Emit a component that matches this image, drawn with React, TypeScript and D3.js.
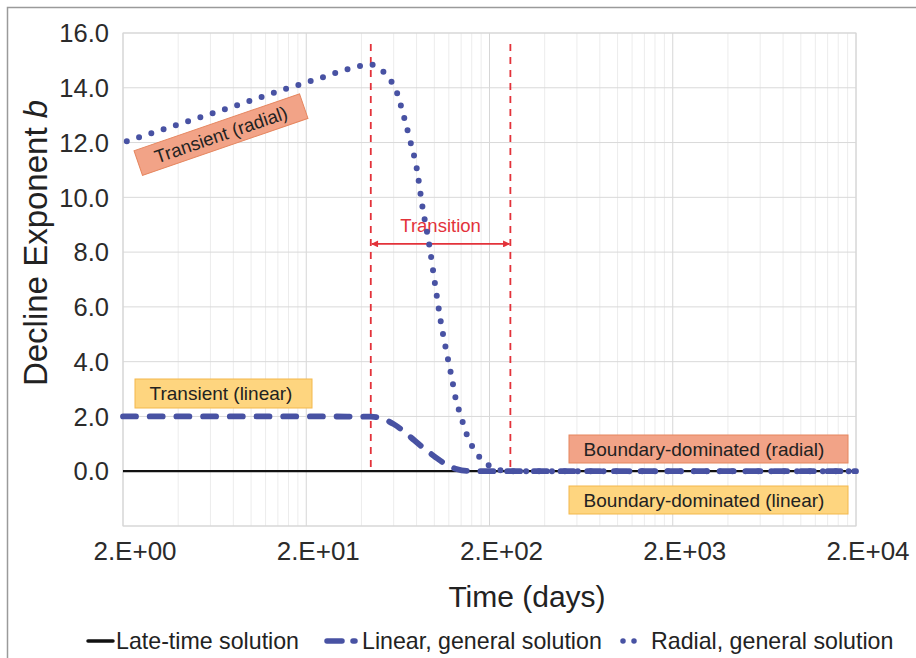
import React from "react";
import * as d3 from "d3";

// Time axis (days) and decline exponent b for each solution
const lateTimeT = [2, 20000];
const lateTimeB = [0, 0];

const linearT = [2, 20, 45, 52, 60, 68, 78, 90, 102, 116, 132, 150, 175, 20000];
const linearB = [2.0, 2.0, 1.99, 1.92, 1.72, 1.46, 1.12, 0.78, 0.5, 0.25, 0.08, 0.01, 0, 0];

const radialT = [2, 4, 8, 15, 25, 32, 38, 44, 51, 57, 62, 65, 68, 74, 80, 86, 94, 101, 109, 116, 124, 132, 139, 146, 155, 168, 187, 214, 250, 20000];
const radialB = [12.0, 12.66, 13.32, 13.93, 14.4, 14.64, 14.77, 14.86, 14.67, 14.32, 13.89, 13.45, 12.98, 12.04, 11.09, 9.68, 8.23, 6.81, 5.37, 4.42, 3.47, 2.53, 2.06, 1.58, 1.13, 0.71, 0.34, 0.1, 0, 0];

// Flow regime boundaries (days)
const transitionStart = 45;
const transitionEnd = 260;

const xTicks = [2, 20, 200, 2000, 20000];
const xTickLabels = ["2.E+00", "2.E+01", "2.E+02", "2.E+03", "2.E+04"];
const yTicks = [0, 2, 4, 6, 8, 10, 12, 14, 16];
const yGrid = [-2, 0, 2, 4, 6, 8, 10, 12, 14, 16];

const FONT = "'Liberation Sans', Arial, Helvetica, sans-serif";
const BLUE = "#4852A3";
const RED = "#E3323A";

export default function App() {
  const W = 916;
  const H = 658;
  const x = d3.scaleLog().domain([2, 20000]).range([123, 856]);
  const y = d3.scaleLinear().domain([-2, 16]).range([526, 33]);

  const line = d3
    .line<[number, number]>()
    .x((d) => x(d[0]))
    .y((d) => y(d[1]))
    .curve(d3.curveMonotoneX);

  const zip = (t: number[], b: number[]) => t.map((v, i) => [v, b[i]] as [number, number]);

  const minorX: number[] = [];
  for (let n = 0; n < 4; n++) {
    for (let k = 2; k <= 9; k++) minorX.push(2 * Math.pow(10, n) * k);
  }

  const [x0, x1] = x.range();
  const [yb, yt] = y.range();

  const arrowY = y(8.3);
  const xs = x(transitionStart);
  const xe = x(transitionEnd);

  const radialBoxCx = 221;
  const radialBoxCy = 134.6;

  return (
    <svg
      width={W}
      height={H}
      style={{ position: "absolute", left: 0, top: 0, background: "#fff" }}
      fontFamily={FONT}
    >
      <defs>
        <marker id="arr" viewBox="0 0 10 10" refX="9" refY="5" markerWidth="9" markerHeight="7" orient="auto-start-reverse" markerUnits="userSpaceOnUse">
          <path d="M0,0 L10,5 L0,10 z" fill={RED} />
        </marker>
      </defs>

      {/* outer chart frame */}
      <path d={`M7.5,${H} L7.5,7.5 L${W},7.5`} fill="none" stroke="#9a9a9a" strokeWidth={1.5} />

      {/* gridlines */}
      {minorX.map((v) => (
        <line key={"mx" + v} x1={x(v)} x2={x(v)} y1={yt} y2={yb} stroke="#ececec" strokeWidth={1} />
      ))}
      {xTicks.map((v) => (
        <line key={"Mx" + v} x1={x(v)} x2={x(v)} y1={yt} y2={yb} stroke="#d6d6d6" strokeWidth={1} />
      ))}
      {yGrid.map((v) => (
        <line key={"gy" + v} x1={x0} x2={x1} y1={y(v)} y2={y(v)} stroke="#d9d9d9" strokeWidth={1} />
      ))}
      <rect x={x0} y={yt} width={x1 - x0} height={yb - yt} fill="none" stroke="#d6d6d6" strokeWidth={1} />

      {/* tick labels */}
      {yTicks.map((v) => (
        <text key={"yt" + v} x={109} y={y(v)} dy="0.36em" textAnchor="end" fontSize={25.5} fill="#2b2b2b">
          {v.toFixed(1)}
        </text>
      ))}
      {xTicks.map((v, i) => (
        <text key={"xt" + v} x={x(v) + 12} y={560} textAnchor="middle" fontSize={26} fill="#2b2b2b">
          {xTickLabels[i]}
        </text>
      ))}

      {/* axis titles */}
      <text x={0} y={0} transform={`translate(47,${243}) rotate(-90)`} textAnchor="middle" fontSize={33} fill="#222">
        Decline Exponent <tspan fontStyle="italic">b</tspan>
      </text>
      <text x={527} y={607} textAnchor="middle" fontSize={30} fill="#222">
        Time (days)
      </text>

      {/* regime boundaries */}
      {[transitionStart, transitionEnd].map((v) => (
        <line key={"rb" + v} x1={x(v)} x2={x(v)} y1={44} y2={y(0)} stroke={RED} strokeWidth={1.8} strokeDasharray="7 6" />
      ))}
      <line x1={xs + 1} x2={xe - 1} y1={arrowY} y2={arrowY} stroke={RED} strokeWidth={1.6} markerStart="url(#arr)" markerEnd="url(#arr)" />
      <text x={(xs + xe) / 2} y={arrowY - 12} textAnchor="middle" fontSize={18.5} fill={RED}>
        Transition
      </text>

      {/* series */}
      <path d={line(zip(lateTimeT, lateTimeB)) || ""} fill="none" stroke="#111" strokeWidth={2.2} />
      <path d={line(zip(linearT, linearB)) || ""} fill="none" stroke={BLUE} strokeWidth={5.8} strokeLinecap="round" strokeDasharray="13 13.7" />
      <path d={line(zip(radialT, radialB)) || ""} fill="none" stroke={BLUE} strokeWidth={6} strokeLinecap="round" strokeDasharray="0 12.9" strokeDashoffset={-4} />

      {/* regime annotations */}
      <g transform={`translate(${radialBoxCx},${radialBoxCy}) rotate(-19)`}>
        <rect x={-87.5} y={-13} width={175} height={26} fill="#F2A387" stroke="#E5865F" strokeWidth={1} />
        <text x={0} y={0} dy="0.35em" textAnchor="middle" fontSize={18.5} fill="#222">
          Transient (radial)
        </text>
      </g>
      <rect x={135} y={379} width={177} height={29} fill="#FED57F" stroke="#F3B84C" strokeWidth={1} />
      <text x={221} y={393.5} dy="0.35em" textAnchor="middle" fontSize={19} fill="#222">
        Transient (linear)
      </text>
      <rect x={569} y={435} width={279} height={28} fill="#F2A387" stroke="#E5865F" strokeWidth={1} />
      <text x={704} y={449} dy="0.35em" textAnchor="middle" fontSize={19} fill="#222">
        Boundary-dominated (radial)
      </text>
      <rect x={569} y={486} width={279} height={28} fill="#FED57F" stroke="#F3B84C" strokeWidth={1} />
      <text x={704} y={500} dy="0.35em" textAnchor="middle" fontSize={19} fill="#222">
        Boundary-dominated (linear)
      </text>

      {/* legend */}
      <g fontSize={23.2} fill="#222">
        <line x1={88} x2={113} y1={641} y2={641} stroke="#111" strokeWidth={3.5} strokeLinecap="round" />
        <text x={116} y={641} dy="0.35em">Late-time solution</text>
        <line x1={327} x2={355} y1={641} y2={641} stroke={BLUE} strokeWidth={5.5} strokeLinecap="round" strokeDasharray="15 11" />
        <text x={362} y={641} dy="0.35em">Linear, general solution</text>
        <line x1={623} x2={645} y1={641} y2={641} stroke={BLUE} strokeWidth={5.5} strokeLinecap="round" strokeDasharray="0 11" />
        <text x={651} y={641} dy="0.35em">Radial, general solution</text>
      </g>
    </svg>
  );
}
